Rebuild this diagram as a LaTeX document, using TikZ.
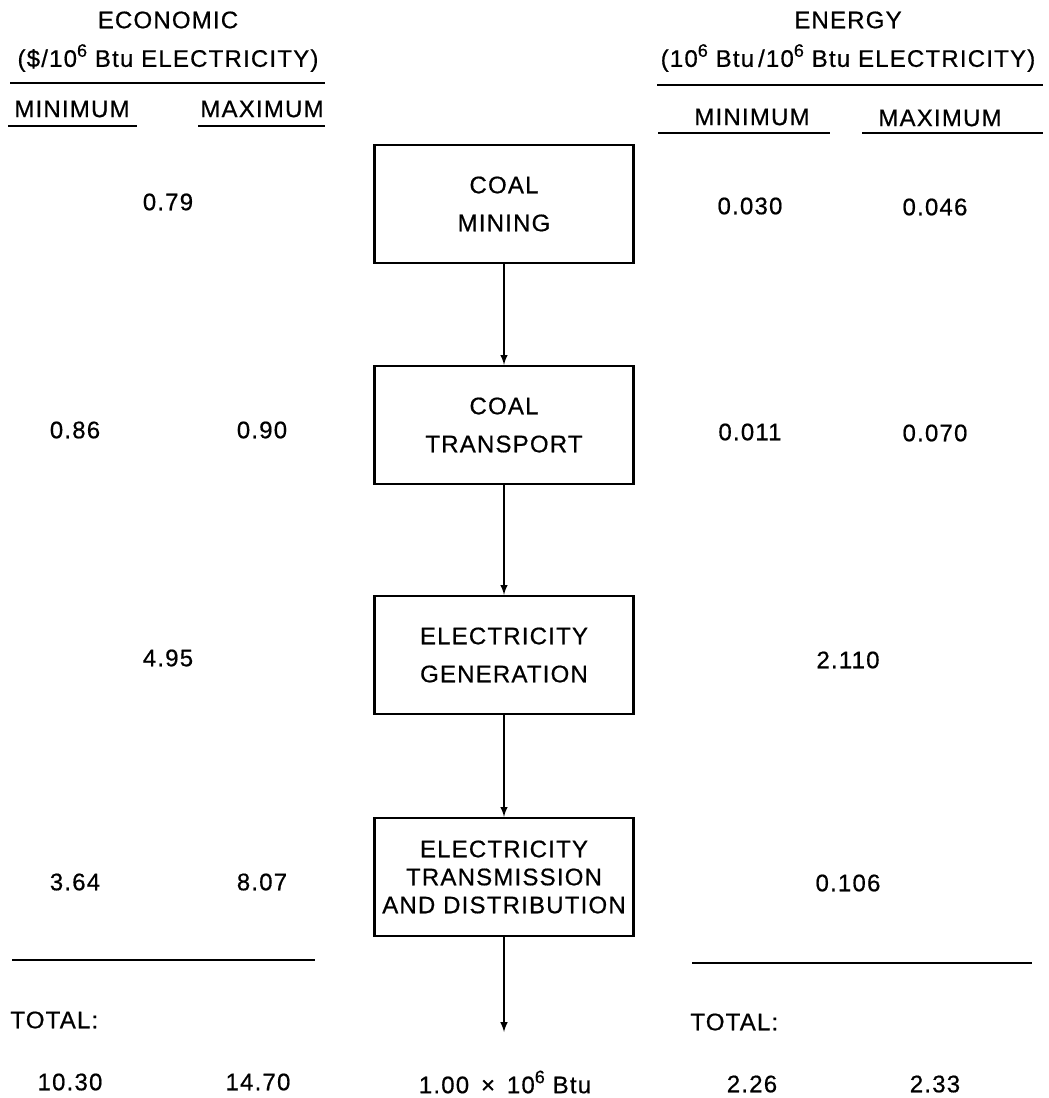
\documentclass[tikz,border=0pt]{standalone}
\usepackage{fontspec}
\setmainfont{Liberation Sans}[LetterSpace=5, FakeBold=0.6]
\usetikzlibrary{positioning}
\newcommand{\expo}[1]{\raisebox{0.42em}{\fontsize{9}{10}\selectfont #1}}

\begin{document}
\begin{tikzpicture}[x=0.5pt, y=-0.5pt, font=\fontsize{12}{14}\selectfont]
	\tikzset{etape/.style={rectangle, draw=black, line width=1.2pt, align=center, minimum width=129.5pt, minimum height=59pt, inner sep=1pt},
	texte/.style={inner sep=0pt, text centered},
	regle/.style={line width=1.4pt}};
	\useasboundingbox (0,0) rectangle (1049,1098);

	% en-tetes
	\node[texte] (eco) at (168,20) {ECONOMIC};
	\node[texte] (ecounit) at (168,58) {(\$/10\expo{6} Btu ELECTRICITY)};
	\node[texte] (ecomin) at (72,109) {MINIMUM};
	\node[texte] (ecomax) at (262,109) {MAXIMUM};
	\node[texte] (ener) at (848,20) {ENERGY};
	\node[texte] (enerunit) at (848,58) {(10\expo{6} Btu\,/10\expo{6} Btu ELECTRICITY)};
	\node[texte] (enermin) at (752,117) {MINIMUM};
	\node[texte] (enermax) at (940,118) {MAXIMUM};

	\draw[regle] (10,83) -- (325,83);
	\draw[regle] (8,126) -- (137,126);
	\draw[regle] (198,126) -- (325,126);
	\draw[regle] (657,85) -- (1043,85);
	\draw[regle] (658,133) -- (830,133);
	\draw[regle] (862,133) -- (1043,133);

	% etapes
	\foreach \nom/\y/\txt in {mine/204/{COAL\\[5pt] MINING}, transp/425/{COAL\\[5pt] TRANSPORT},
		gen/655/{ELECTRICITY\\[5pt] GENERATION}, distr/877/{ELECTRICITY\\ TRANSMISSION\\ AND DISTRIBUTION}} {
		\node[etape] (\nom) at (504,\y) {\txt};
	}
	\node[texte] (sortie) at (505,1082) {1.00 \,×\, 10\expo{6} Btu};
	\coordinate (fin) at (504,1032);

	\foreach \a/\b in {mine/transp, transp/gen, gen/distr} {
		\draw[->, >=latex, line width=0.7pt] (\a) -- (\b);
	}
	\draw[->, >=latex, line width=0.7pt] (distr) -- (fin);

	% valeurs economiques
	\foreach \nom/\x/\y/\val in {e1/168/202/0.79, e2a/75/430/0.86, e2b/262/430/0.90, e3/168/658/4.95,
		e4a/75/882/3.64, e4b/262/882/8.07, etota/70/1082/10.30, etotb/258/1082/14.70} {
		\node[texte] (\nom) at (\x,\y) {\val};
	}
	% valeurs energie
	\foreach \nom/\x/\y/\val in {n1a/750/206/0.030, n1b/935/207/0.046, n2a/750/432/0.011, n2b/935/433/0.070,
		n3/848/660/2.110, n4/848/883/0.106, ntota/752/1084/2.26, ntotb/935/1084/2.33} {
		\node[texte] (\nom) at (\x,\y) {\val};
	}

	\draw[regle] (12,960) -- (315,960);
	\draw[regle] (692,963) -- (1032,963);
	\node[texte, anchor=west] (ecotot) at (10,1020) {TOTAL:};
	\node[texte, anchor=west] (enertot) at (690,1022) {TOTAL:};
\end{tikzpicture}
\end{document}
